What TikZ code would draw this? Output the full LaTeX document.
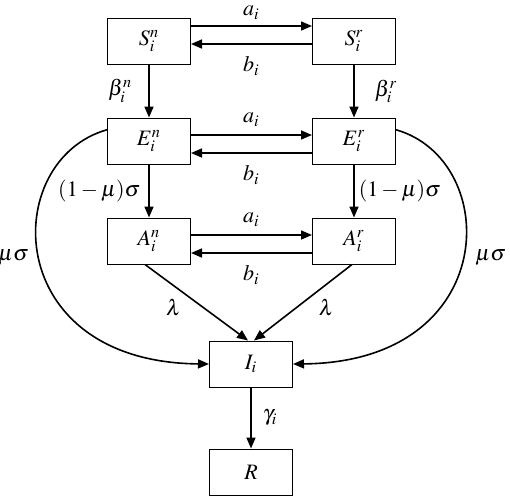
\documentclass[tikz,border=0pt]{standalone}
\usepackage{mathptmx}
\usetikzlibrary{arrows.meta,calc}
\begin{document}
\begin{tikzpicture}[x=0.5pt,y=-0.5pt,
  font=\fontsize{11}{13}\selectfont,
  box/.style={draw,line width=0.5pt,minimum width=41.5pt,minimum height=23pt,inner sep=0pt},
  arr/.style={line width=0.8pt,-{Triangle[length=5.5pt,width=4.5pt]}},
  lab/.style={inner sep=0pt}]
\useasboundingbox (0,0) rectangle (510,499);
% nodes
\node[box] (Sn) at (149,41) {$S_i^n$};
\node[box] (Sr) at (354,41) {$S_i^r$};
\node[box] (En) at (149,141) {$E_i^n$};
\node[box] (Er) at (354,141) {$E_i^r$};
\node[box] (An) at (149,241) {$A_i^n$};
\node[box] (Ar) at (354,241) {$A_i^r$};
\node[box] (I) at (251,364) {$I_i$};
\node[box] (R) at (251,472) {$R$};
% horizontal exchanges
\draw[arr] ($(Sn.east)+(0,-15)$) -- node[lab,above=3pt]{$a_i$} ($(Sr.west)+(0,-15)$);
\draw[arr] ($(Sr.west)+(0,3)$) -- node[lab,below=6pt]{$b_i$} ($(Sn.east)+(0,3)$);
\draw[arr] ($(En.east)+(0,-6)$) -- node[lab,above=4pt]{$a_i$} ($(Er.west)+(0,-6)$);
\draw[arr] ($(Er.west)+(0,12)$) -- node[lab,below=6pt]{$b_i$} ($(En.east)+(0,12)$);
\draw[arr] ($(An.east)+(0,-6)$) -- node[lab,above=4pt]{$a_i$} ($(Ar.west)+(0,-6)$);
\draw[arr] ($(Ar.west)+(0,12)$) -- node[lab,below=6pt]{$b_i$} ($(An.east)+(0,12)$);
% vertical
\draw[arr] (Sn) -- node[lab,left=8pt]{$\beta_i^n$} (En);
\draw[arr] (Sr) -- node[lab,right=10pt]{$\beta_i^r$} (Er);
\draw[arr] (En) -- node[lab,left=4pt]{$(1-\mu)\sigma$} (An);
\draw[arr] (Er) -- node[lab,right=2pt]{$(1-\mu)\sigma$} (Ar);
\draw[arr] (I) -- node[lab,right=5.5pt]{$\gamma_i$} (R);
% lambda
\draw[arr] ($(An.south)+(-4,0)$) -- node[lab,pos=0.57,left=11pt]{$\lambda$} ($(I.north)+(-3,0)$);
\draw[arr] ($(Ar.south)+(-2,0)$) -- node[lab,pos=0.57,right=11pt]{$\lambda$} ($(I.north)+(3,0)$);
% mu sigma curves
\draw[arr] (En.165) .. controls (0,160) and (0,362) .. (I.west)
  node[lab,pos=0.5,left=5pt]{$\mu\sigma$};
\draw[arr] (Er.15) .. controls (502,160) and (502,362) .. (I.east)
  node[lab,pos=0.5,right=6pt]{$\mu\sigma$};
\end{tikzpicture}
\end{document}
